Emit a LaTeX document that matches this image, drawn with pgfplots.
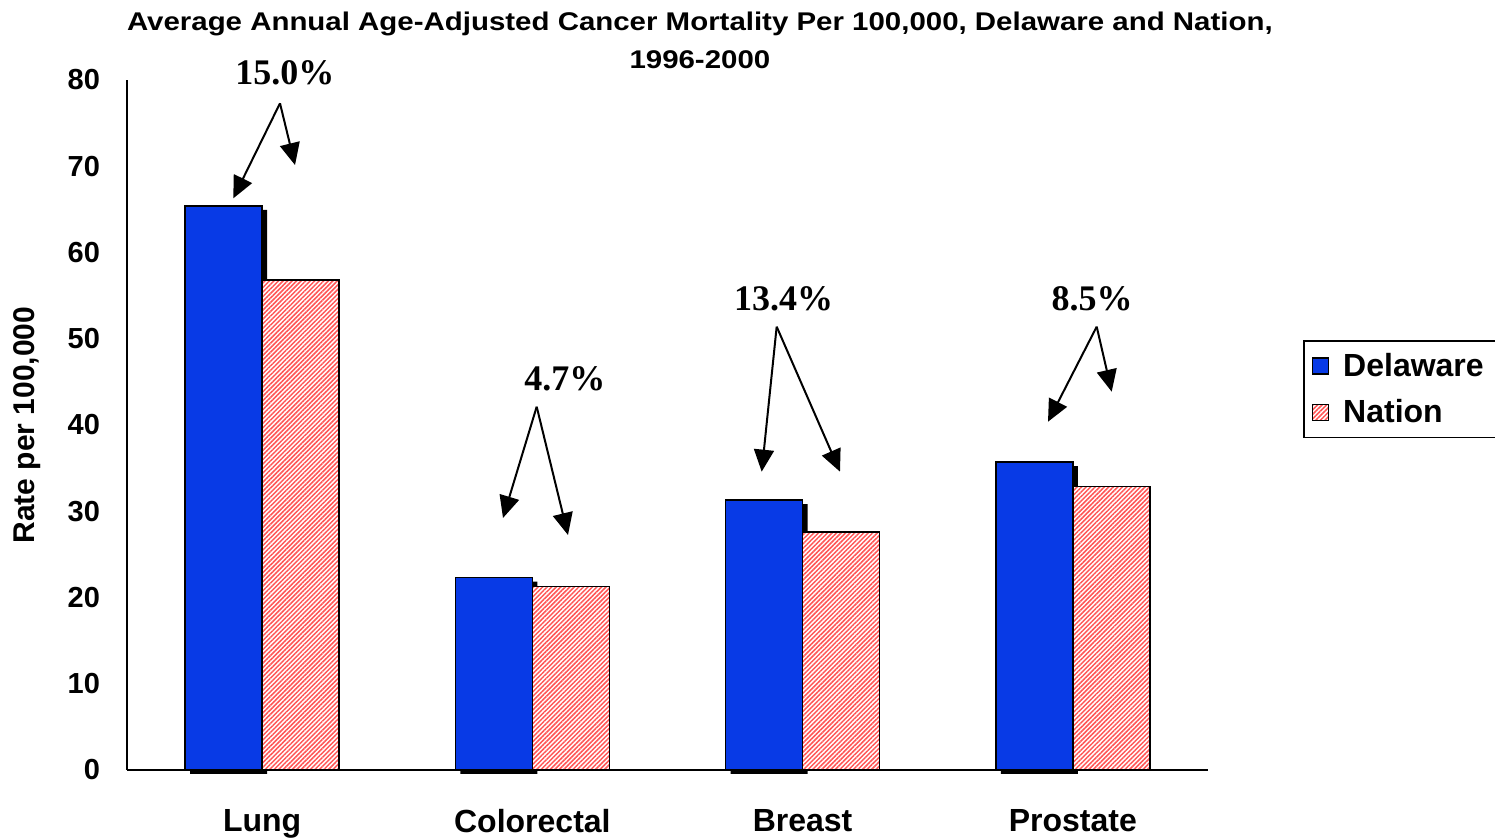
\documentclass[border=0pt]{standalone}
\usepackage{pgfplots}
\pgfplotsset{compat=1.18}
\usepackage{fontspec}
\setmainfont{Liberation Sans}
\newfontfamily\serifb{Liberation Serif}
\newfontfamily\widesans[FakeStretch=1.15]{Liberation Sans}
\usetikzlibrary{arrows.meta,patterns.meta}
\definecolor{delblue}{RGB}{8,58,230}
\definecolor{natred}{RGB}{255,85,85}

\begin{document}
\begin{tikzpicture}
\begin{axis}[
  at={(0,0)}, anchor=south west,
  scale only axis, width=540.5pt, height=345pt,
  xmin=-0.5, xmax=3.5, ymin=0, ymax=80,
  axis x line*=bottom, axis y line*=left,
  axis line style={-, line width=0.7pt},
  ytick={0,10,...,80}, xtick={0,1,2,3},
  xticklabels={Lung,Colorectal,Breast,Prostate},
  major tick length=0pt,
  /pgf/number format/assume math mode=true,
  yticklabel style={font=\fontsize{14.5}{17}\selectfont\bfseries, xshift=-10pt},
  xticklabel style={font=\fontsize{16}{19}\selectfont\bfseries, yshift=-16pt},
  ylabel={Rate per 100,000},
  every axis y label/.style={at={(axis description cs:-0.0925,0.5)}, rotate=90, anchor=center, font=\fontsize{15}{18}\selectfont\bfseries},
  title={Average Annual Age-Adjusted Cancer Mortality Per 100,000, Delaware and Nation,\\1996-2000},
  title style={at={(axis description cs:0.53,1.091)}, anchor=north, align=center, font=\widesans\fontsize{12.8}{19}\selectfont\bfseries},
  ybar, bar width=0.285,
  clip=false,
  legend cell align=left,
  legend style={at={(axis description cs:1.088,0.623)}, anchor=north west, draw=black, line width=0.7pt, font=\fontsize{16}{19}\selectfont\bfseries, row sep=6pt, inner xsep=4pt, inner ysep=4pt, nodes={inner xsep=4pt}},
  legend image code/.code={\draw[#1, line width=0.6pt] (0pt,-4pt) rectangle (8pt,4pt);
     \path[draw=none, fill=none, pattern=none] (0pt,0pt) (11pt,0pt);},
]
% shadow of Delaware bars
\addplot[forget plot, fill=black, draw=none, bar shift=-0.124, yshift=-2pt]
  coordinates {(0,65.4) (1,22.3) (2,31.3) (3,35.7)};
\addplot[fill=delblue, draw=black, line width=0.7pt, bar shift=-0.1425]
  coordinates {(0,65.4) (1,22.3) (2,31.3) (3,35.7)};
\addlegendentry{Delaware}
\addplot[fill=white, draw=black, line width=0.7pt, bar shift=0.1425,
  postaction={pattern={Lines[angle=45,distance=1.6pt,line width=0.75pt]}, pattern color=natred}]
  coordinates {(0,56.8) (1,21.3) (2,27.6) (3,32.9)};
\addlegendentry{Nation}

\tikzset{pct/.style={font=\serifb\fontsize{18}{20}\selectfont\bfseries},
         arr/.style={line width=1pt, -{Triangle[length=11pt,width=10pt]}}}
\node[pct] at (axis cs:0.0846,80.87) {15.0\%};
\draw[arr] (axis cs:0.0661,77.30) -- (axis cs:-0.1067,66.28);
\draw[arr] (axis cs:0.0661,77.30) -- (axis cs:0.1217,70.14);

\node[pct] at (axis cs:1.1207,45.33) {4.7\%};
\draw[arr] (axis cs:1.0160,42.12) -- (axis cs:0.8913,29.22);
\draw[arr] (axis cs:1.0160,42.12) -- (axis cs:1.1318,27.25);

\node[pct] at (axis cs:1.9293,54.67) {13.4\%};
\draw[arr] (axis cs:1.9040,51.40) -- (axis cs:1.8486,34.59);
\draw[arr] (axis cs:1.9040,51.40) -- (axis cs:2.1383,34.59);

\node[pct] at (axis cs:3.0708,54.67) {8.5\%};
\draw[arr] (axis cs:3.0882,51.40) -- (axis cs:2.9080,40.38);
\draw[arr] (axis cs:3.0882,51.40) -- (axis cs:3.1437,43.86);
\end{axis}
\pgfresetboundingbox
\path (-63.5pt,-35pt) rectangle (684pt,385pt);
\end{tikzpicture}
\end{document}
